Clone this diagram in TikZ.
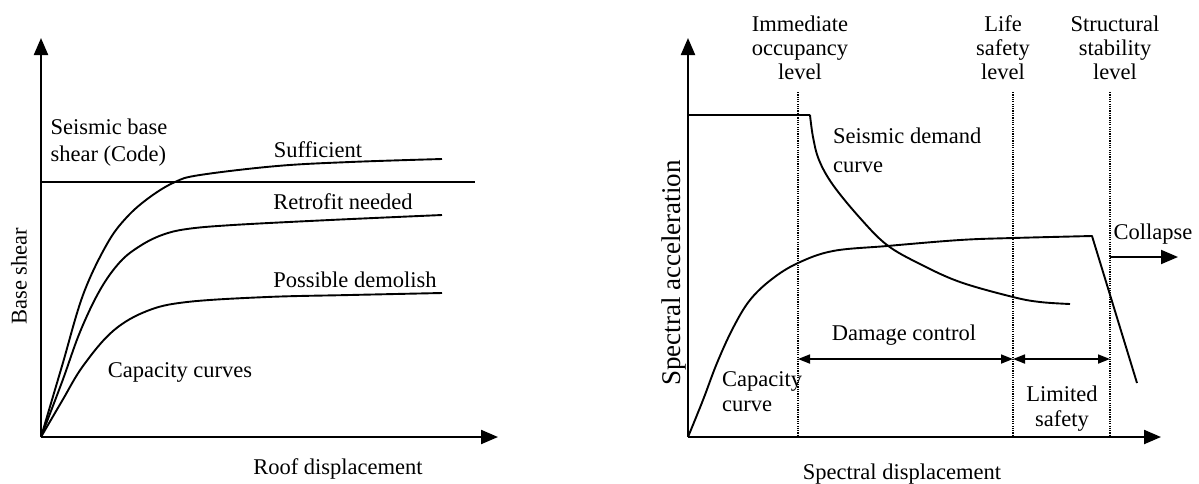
\documentclass[tikz,border=0pt]{standalone}
\usepackage{fontspec}
\setmainfont{Liberation Serif}
\usetikzlibrary{arrows.meta}
\tikzset{
  lbl/.style={inner sep=0pt, font=\fontsize{22.5}{25}\selectfont},
  axis/.style={line width=2.2pt, -{Triangle[length=17pt,width=14pt]}},
  curve/.style={line width=1.9pt, line join=round},
  level/.style={line width=1.1pt, dash pattern=on 1.2pt off 1.1pt},
  span/.style={line width=1.7pt, {Triangle[length=12pt,width=9pt]}-{Triangle[length=12pt,width=9pt]}},
}
\begin{document}
\begin{tikzpicture}[x=1pt,y=-1pt]
\useasboundingbox (0,0) rectangle (1199,483);
% ---------- left chart ----------
\coordinate (LO) at (41,437);
\coordinate (LY) at (41,38);
\coordinate (LX) at (498,437);
\draw[axis] (LO) -- (LY);
\draw[axis] (LO) -- (LX);
\coordinate (codeL) at (41,182);
\coordinate (codeR) at (475,182);
\draw[curve] (codeL) -- (codeR);
\draw[curve] plot[smooth, tension=0.6] coordinates {(41,437) (62,366) (83,295) (107,244) (127,217) (150,197) (175,182) (200,175) (277,166) (350,162) (442,159)};
\draw[curve] plot[smooth, tension=0.6] coordinates {(41,437) (62,382) (80,332) (100,290) (120,262) (140,246) (162,235) (187,229) (233,225) (330,220) (442,215)};
\draw[curve] plot[smooth, tension=0.6] coordinates {(41,437) (62,401) (83,366) (113,331) (147,311) (187,302) (267,297) (350,295) (442,293)};
\node[lbl, align=left, font=\fontsize{22.5}{27}\selectfont] (code) at (109,143) {Seismic base\\shear (Code)};
\node[lbl] (suff) at (318,150) {Sufficient};
\node[lbl] (retro) at (343,202) {Retrofit needed};
\node[lbl] (demo) at (355,280) {Possible demolish};
\node[lbl] (capc) at (180,372) {Capacity curves};
\node[lbl] (roof) at (338,469) {Roof displacement};
\node[lbl, rotate=90] (bs) at (19,276) {Base shear};
% ---------- right chart ----------
\coordinate (RO) at (688,437);
\coordinate (RY) at (688,38);
\coordinate (RX) at (1161,437);
\draw[axis] (RO) -- (RY);
\draw[axis] (RO) -- (RX);
% level lines
\coordinate (io1) at (798,92);  \coordinate (io2) at (798,435);
\coordinate (ls1) at (1013,92); \coordinate (ls2) at (1013,435);
\coordinate (ss1) at (1110,92); \coordinate (ss2) at (1110,435);
\draw[level] (io1) -- (io2);
\draw[level] (ls1) -- (ls2);
\draw[level] (ss1) -- (ss2);
% demand curve
\draw[curve] (688,115) -- (810,115) plot[smooth, tension=0.6] coordinates {(810,115) (813,137) (819,160) (833,185) (860,218) (887,245) (920,264) (960,282) (1013,297) (1040,302) (1070,304)};
% capacity curve
\draw[curve] plot[smooth, tension=0.6] coordinates {(688,437) (703,400) (717,363) (733,328) (750,300) (772,279) (798,263) (833,251) (887,246) (960,240) (1013,238) (1092,236)} -- (1137,383);
% spans
\coordinate (d1) at (798,359);
\coordinate (d2) at (1013,359);
\coordinate (d3) at (1110,359);
\draw[span] (d1) -- (d2);
\draw[span] (d2) -- (d3);
\coordinate (c1) at (1110,257);
\coordinate (c2) at (1178,257);
\draw[line width=1.9pt, -{Triangle[length=17pt,width=14pt]}] (c1) -- (c2);
% labels
\node[lbl, align=center, font=\fontsize{22.5}{24}\selectfont] (io) at (800,48) {Immediate\\occupancy\\level};
\node[lbl, align=center, font=\fontsize{22.5}{24}\selectfont] (ls) at (1003,48) {Life\\safety\\level};
\node[lbl, align=center, font=\fontsize{22.5}{24}\selectfont] (ss) at (1115,48) {Structural\\stability\\level};
\node[lbl, align=left, anchor=west, font=\fontsize{22.5}{29}\selectfont] (dem) at (833,150) {Seismic demand\\curve};
\node[lbl] (coll) at (1153,234) {Collapse};
\node[lbl] (dc) at (904,335) {Damage control};
\node[lbl, align=left, anchor=west] (capr) at (722,392) {Capacity\\curve};
\node[lbl, align=center] (lim) at (1062,409) {Limited\\safety};
\node[lbl] (sd) at (902,474) {Spectral displacement};
\node[lbl, rotate=90, font=\fontsize{27}{29}\selectfont] (sa) at (674,273) {Spectral acceleration};
\end{tikzpicture}
\end{document}
